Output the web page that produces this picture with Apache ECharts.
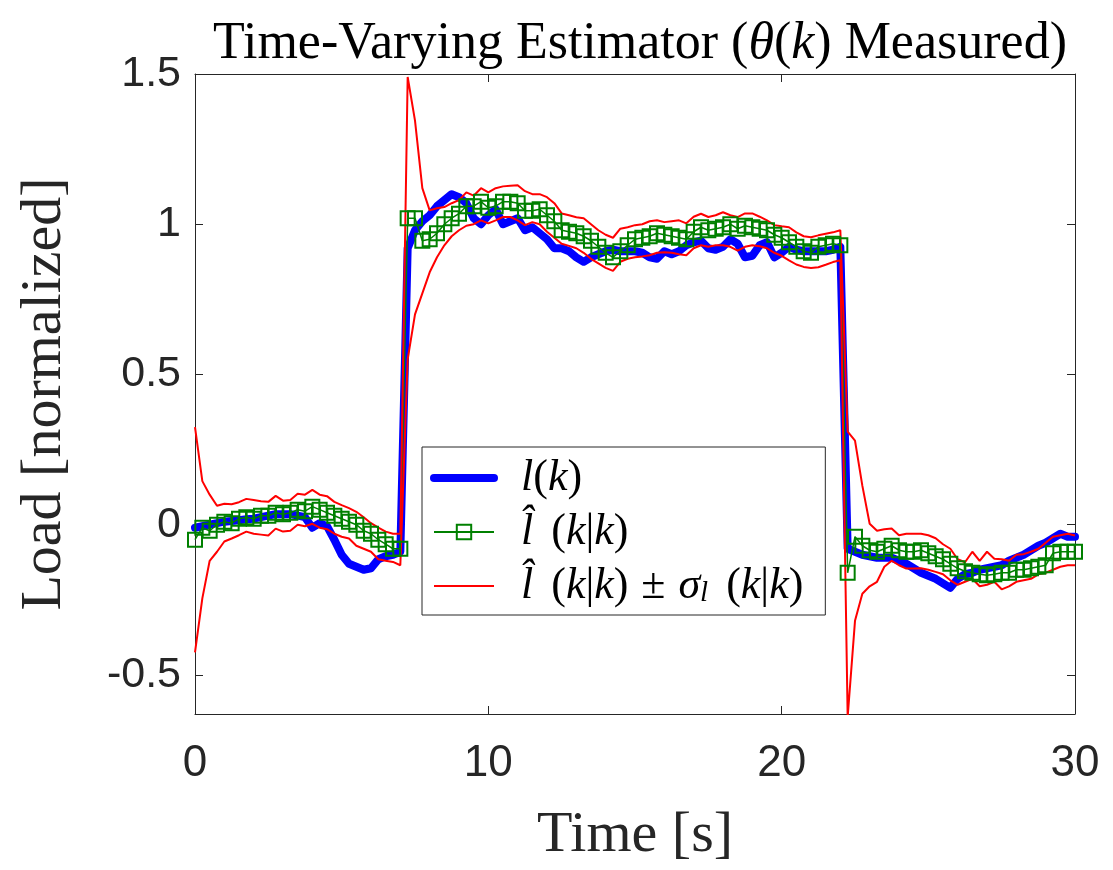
<!DOCTYPE html>
<html>
<head>
<meta charset="utf-8">
<script src="https://cdn.jsdelivr.net/npm/echarts@6/dist/echarts.min.js"></script>
<style>
  html, body { margin: 0; padding: 0; background: #fff; }
  #main { width: 1113px; height: 870px; }
</style>
</head>
<body>
<div id="main"></div>
<script>
// sample times [s]
var time = [
  0, 0.25, 0.5, 0.75, 1, 1.25, 1.5, 1.75, 2, 2.25, 2.5, 2.75, 3, 3.25, 3.5, 3.75,
  4, 4.25, 4.5, 4.75, 5, 5.25, 5.5, 5.75, 6, 6.25, 6.5, 6.75, 7, 7.25, 7.5, 7.75,
  8, 8.25, 8.5, 8.75, 9, 9.25, 9.5, 9.75, 10, 10.25, 10.5, 10.75, 11, 11.25, 11.5, 11.75,
  12, 12.25, 12.5, 12.75, 13, 13.25, 13.5, 13.75, 14, 14.25, 14.5, 14.75, 15, 15.25, 15.5, 15.75,
  16, 16.25, 16.5, 16.75, 17, 17.25, 17.5, 17.75, 18, 18.25, 18.5, 18.75, 19, 19.25, 19.5, 19.75,
  20, 20.25, 20.5, 20.75, 21, 21.25, 21.5, 21.75, 22, 22.25, 22.5, 22.75, 23, 23.25, 23.5, 23.75,
  24, 24.25, 24.5, 24.75, 25, 25.25, 25.5, 25.75, 26, 26.25, 26.5, 26.75, 27, 27.25, 27.5, 27.75,
  28, 28.25, 28.5, 28.75, 29, 29.25, 29.5, 29.75, 30
];

// true load l(k)
var loadTrue = [
  -0.01, -0.005, 0, 0.005, 0.01, 0.012, 0.015, 0.018, 0.02, 0.025, 0.03, 0.035, 0.035, 0.035, 0.03, 0.025,
  -0.01, 0.005, -0.005, -0.05, -0.1, -0.13, -0.14, -0.15, -0.145, -0.115, -0.105, -0.1, -0.09, 0.92, 0.98, 1.01,
  1.03, 1.06, 1.08, 1.1, 1.09, 1.07, 1.02, 1, 1.03, 1.05, 1, 1.01, 1.02, 0.98, 0.99, 0.97,
  0.95, 0.92, 0.92, 0.91, 0.89, 0.875, 0.89, 0.9, 0.91, 0.915, 0.91, 0.91, 0.91, 0.905, 0.89, 0.885,
  0.91, 0.9, 0.91, 0.93, 0.94, 0.945, 0.92, 0.915, 0.925, 0.95, 0.935, 0.89, 0.895, 0.93, 0.94, 0.89,
  0.905, 0.925, 0.915, 0.91, 0.91, 0.91, 0.91, 0.915, 0.925, -0.08, -0.09, -0.1, -0.105, -0.11, -0.11, -0.11,
  -0.12, -0.13, -0.145, -0.16, -0.17, -0.18, -0.195, -0.21, -0.18, -0.165, -0.16, -0.15, -0.145, -0.14, -0.135, -0.12,
  -0.11, -0.1, -0.085, -0.07, -0.06, -0.045, -0.03, -0.04, -0.04
];

// estimate l^(k|k)
var loadEst = [
  -0.05, -0.01, -0.02, 0, 0.01, 0.005, 0.02, 0.025, 0.02, 0.03, 0.03, 0.04, 0.035, 0.04, 0.05, 0.045,
  0.06, 0.05, 0.04, 0.03, 0.02, 0.01, 0, -0.02, -0.03, -0.05, -0.065, -0.08, -0.08, 1.02, 1.02, 0.945,
  0.95, 0.97, 1, 1.02, 1.035, 1.06, 1.06, 1.075, 1.055, 1.06, 1.075, 1.075, 1.07, 1.045, 1.045, 1.05,
  1.03, 1.01, 0.98, 0.975, 0.97, 0.96, 0.945, 0.925, 0.905, 0.89, 0.91, 0.93, 0.95, 0.955, 0.96, 0.97,
  0.965, 0.96, 0.955, 0.95, 0.975, 0.99, 0.98, 0.985, 0.99, 1, 0.985, 0.995, 0.99, 0.985, 0.98, 0.965,
  0.955, 0.94, 0.925, 0.91, 0.905, 0.925, 0.93, 0.935, 0.93, -0.16, -0.04, -0.07, -0.085, -0.09, -0.08, -0.07,
  -0.085, -0.09, -0.09, -0.085, -0.095, -0.105, -0.115, -0.13, -0.145, -0.155, -0.16, -0.165, -0.168, -0.165, -0.16, -0.16,
  -0.15, -0.15, -0.145, -0.14, -0.135, -0.095, -0.09, -0.09, -0.09
];

// estimate + sigma
var bandUpper = [
  0.325, 0.145, 0.1, 0.063, 0.07, 0.068, 0.075, 0.086, 0.082, 0.078, 0.076, 0.096, 0.08, 0.082, 0.103, 0.1,
  0.116, 0.1, 0.095, 0.076, 0.065, 0.055, 0.043, 0.025, 0.005, -0.01, -0.023, -0.03, -0.03, 1.49, 1.345, 1.12,
  1.046, 1.053, 1.057, 1.07, 1.08, 1.106, 1.095, 1.12, 1.106, 1.12, 1.126, 1.128, 1.13, 1.11, 1.1, 1.1,
  1.09, 1.07, 1.036, 1.03, 1.023, 1.02, 1, 0.98, 0.965, 0.955, 0.985, 0.99, 0.997, 1, 1.01, 1.013,
  1.007, 1.01, 1.013, 1.003, 1.025, 1.035, 1.024, 1.03, 1.04, 1.03, 1.024, 1.036, 1.036, 1.025, 1.013, 0.997,
  0.993, 0.99, 0.973, 0.96, 0.957, 0.963, 0.968, 0.973, 0.98, 0.31, 0.28, 0.13, 0.003, -0.02, -0.015, -0.013,
  -0.035, -0.03, -0.03, -0.03, -0.035, -0.045, -0.065, -0.08, -0.115, -0.125, -0.09, -0.12, -0.09, -0.113, -0.115, -0.12,
  -0.1, -0.098, -0.09, -0.08, -0.06, -0.04, -0.035, -0.03, -0.036
];

// estimate - sigma
var bandLower = [
  -0.425, -0.245, -0.12, -0.09, -0.056, -0.046, -0.035, -0.023, -0.03, -0.033, -0.036, -0.013, -0.023, -0.02, 0, -0.005,
  0.003, -0.01, -0.015, -0.03, -0.04, -0.046, -0.07, -0.08, -0.09, -0.115, -0.12, -0.124, -0.135, 0.55, 0.7, 0.77,
  0.84, 0.89, 0.93, 0.96, 0.98, 0.995, 1, 1.013, 1.003, 1.013, 1.024, 1.024, 1.013, 0.997, 1.007, 1,
  0.975, 0.955, 0.935, 0.928, 0.92, 0.905, 0.885, 0.87, 0.855, 0.845, 0.875, 0.885, 0.89, 0.893, 0.897, 0.905,
  0.907, 0.905, 0.9, 0.897, 0.92, 0.93, 0.925, 0.93, 0.93, 0.925, 0.912, 0.925, 0.93, 0.927, 0.92, 0.905,
  0.895, 0.88, 0.866, 0.858, 0.854, 0.857, 0.865, 0.874, 0.88, -0.64, -0.32, -0.23, -0.205, -0.19, -0.14, -0.12,
  -0.135, -0.146, -0.146, -0.145, -0.15, -0.157, -0.165, -0.185, -0.2, -0.19, -0.18, -0.205, -0.2, -0.19, -0.215, -0.205,
  -0.19, -0.185, -0.18, -0.165, -0.16, -0.15, -0.14, -0.135, -0.135
];

var yTicks = [-0.5, 0, 0.5, 1, 1.5];

function pairs(vals) {
  return vals.map(function (v, i) { return [time[i], v]; });
}

var axisColor = '#262626';
var serif = 'Liberation Serif';

var chart = echarts.init(document.getElementById('main'), null, { renderer: 'canvas' });

var legendRich = {
  i: { fontFamily: serif, fontStyle: 'italic', fontSize: 44, lineHeight: 41, color: '#000' },
  r: { fontFamily: serif, fontSize: 44, lineHeight: 41, color: '#000' },
  s: { fontFamily: serif, fontStyle: 'italic', fontSize: 29, lineHeight: 29, color: '#000', padding: [14, 0, 0, 0] },
  sp: { width: 22, lineHeight: 41 },
  g: { width: 18, lineHeight: 41 },
  pm: { fontFamily: serif, fontSize: 44, lineHeight: 41, color: '#000', width: 50, align: 'center' }
};

var option = {
  backgroundColor: '#ffffff',
  animation: false,
  title: {
    text: '{r|Time-Varying Estimator (}{i|θ}{r|(}{i|k}{r|) Measured)}',
    left: 635,
    top: 13,
    textAlign: 'center',
    textStyle: {
      fontWeight: 'normal',
      rich: {
        r: { fontFamily: serif, fontSize: 52, fontWeight: 'normal', color: '#000' },
        i: { fontFamily: serif, fontSize: 52, fontWeight: 'normal', fontStyle: 'italic', color: '#000' }
      }
    }
  },
  grid: { left: 195, right: 38, top: 74, bottom: 154 },
  legend: {
    orient: 'vertical',
    left: 422,
    top: 447,
    padding: [9, 22, 7, 8],
    itemWidth: 60,
    itemHeight: 18,
    itemGap: 10,
    backgroundColor: '#fff',
    borderColor: axisColor,
    borderWidth: 1,
    borderRadius: 0,
    textStyle: { lineHeight: 41, rich: legendRich },
    data: [
      { name: 'true', lineStyle: { width: 8 }, itemStyle: { opacity: 0 } },
      { name: 'est', lineStyle: { width: 2 } },
      { name: 'band', lineStyle: { width: 2 }, itemStyle: { opacity: 0 } }
    ],
    formatter: function (name) {
      if (name === 'true') return '{sp| }{i|l}{r|(}{i|k}{r|)}';
      if (name === 'est') return '{sp| }{i|l\u0302}{g| }{r|(}{i|k}{r||}{i|k}{r|)}';
      return '{sp| }{i|l\u0302}{g| }{r|(}{i|k}{r||}{i|k}{r|)}{pm|±}{i|σ}{s|l}{g| }{r|(}{i|k}{r||}{i|k}{r|)}';
    }
  },
  xAxis: [{
    type: 'value',
    position: 'bottom',
    min: 0,
    max: 30,
    interval: 10,
    name: 'Time [s]',
    nameLocation: 'middle',
    nameGap: 93,
    nameTextStyle: { fontFamily: serif, fontSize: 58, color: axisColor },
    axisLine: { onZero: false, lineStyle: { color: axisColor, width: 1 } },
    axisTick: { inside: true, length: 8, lineStyle: { color: axisColor } },
    axisLabel: { fontFamily: 'Liberation Sans', fontSize: 44, color: axisColor, margin: 28 },
    splitLine: { show: false }
  }, {
    type: 'value',
    position: 'top',
    min: 0,
    max: 30,
    interval: 10,
    axisLine: { onZero: false, lineStyle: { color: axisColor, width: 1 } },
    axisTick: { inside: true, length: 8, lineStyle: { color: axisColor } },
    axisLabel: { show: false },
    splitLine: { show: false }
  }],
  yAxis: [{
    type: 'value',
    position: 'left',
    min: -0.63,
    max: 1.5,
    name: 'Load [normalized]',
    nameLocation: 'middle',
    nameGap: 121,
    nameTextStyle: { fontFamily: serif, fontSize: 58, color: axisColor },
    axisLine: { show: true, onZero: false, lineStyle: { color: axisColor, width: 1 } },
    axisTick: { show: true, inside: true, length: 8, customValues: yTicks, lineStyle: { color: axisColor } },
    axisLabel: { fontFamily: 'Liberation Sans', fontSize: 43, color: axisColor, margin: 14, customValues: yTicks },
    splitLine: { show: false }
  }, {
    type: 'value',
    position: 'right',
    min: -0.63,
    max: 1.5,
    axisLine: { show: true, onZero: false, lineStyle: { color: axisColor, width: 1 } },
    axisTick: { show: true, inside: true, length: 8, customValues: yTicks, lineStyle: { color: axisColor } },
    axisLabel: { show: false },
    splitLine: { show: false }
  }],
  series: [
    {
      name: 'true',
      type: 'line',
      data: pairs(loadTrue),
      showSymbol: false,
      symbol: 'none',
      color: '#0000ff',
      lineStyle: { color: '#0000ff', width: 8, join: 'round', cap: 'round' }
    },
    {
      name: 'est',
      type: 'line',
      data: pairs(loadEst),
      symbol: 'rect',
      symbolSize: 14,
      color: '#008000',
      itemStyle: { color: 'rgba(0,0,0,0)', borderColor: '#008000', borderWidth: 2 },
      lineStyle: { color: '#008000', width: 1.5 }
    },
    {
      name: 'band',
      type: 'line',
      data: pairs(bandUpper),
      showSymbol: false,
      symbol: 'none',
      color: '#ff0000',
      lineStyle: { color: '#ff0000', width: 2 }
    },
    {
      name: 'band',
      type: 'line',
      data: pairs(bandLower),
      showSymbol: false,
      symbol: 'none',
      color: '#ff0000',
      lineStyle: { color: '#ff0000', width: 2 }
    }
  ]
};

chart.setOption(option);
</script>
</body>
</html>
